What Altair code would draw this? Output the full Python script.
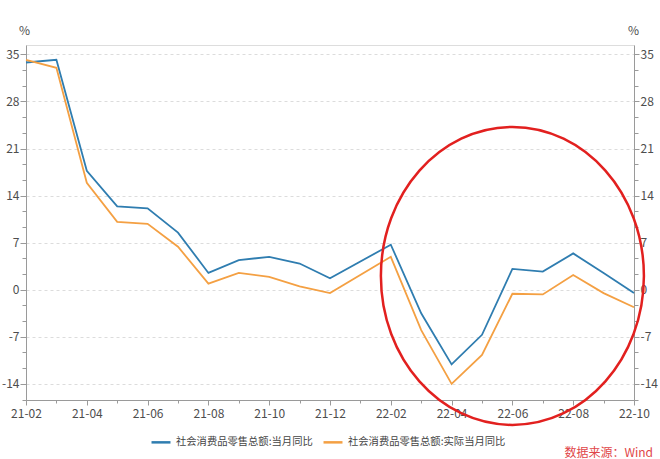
import altair as alt
import pandas as pd

# Month axis (Jan figures are merged into Feb in the source statistics)
months_axis = [
    "21-02", "21-03", "21-04", "21-05", "21-06", "21-07", "21-08", "21-09",
    "21-10", "21-11", "21-12", "22-01", "22-02", "22-03", "22-04", "22-05",
    "22-06", "22-07", "22-08", "22-09", "22-10",
]
label_months = months_axis[::2]

# Observed months and year-on-year growth (%)
months = [
    "21-02", "21-03", "21-04", "21-05", "21-06", "21-07", "21-08", "21-09",
    "21-10", "21-11", "21-12", "22-02", "22-03", "22-04", "22-05", "22-06",
    "22-07", "22-08", "22-09", "22-10",
]
nominal_yoy = [33.8, 34.2, 17.7, 12.4, 12.1, 8.5, 2.5, 4.4, 4.9, 3.9, 1.7,
               6.7, -3.5, -11.1, -6.7, 3.1, 2.7, 5.4, 2.5, -0.5]
real_yoy = [34.2, 33.0, 15.9, 10.1, 9.8, 6.4, 0.9, 2.5, 1.9, 0.5, -0.5,
            4.9, -6.0, -14.0, -9.7, -0.6, -0.7, 2.2, -0.5, -2.6]

series_names = ["社会消费品零售总额:当月同比", "社会消费品零售总额:实际当月同比"]
series_colors = ["#2f7db0", "#f4a043"]

major_ticks = [-14, -7, 0, 7, 14, 21, 28, 35]
minor_ticks = [round(k * 7 / 3, 2) for k in range(-7, 16) if k % 3]
y_domain = [-16.4, 36.4]

# Highlighted recent period (centre of the ring)
highlight_month = ["22-06"]
highlight_value = [2.05]

df = pd.concat([
    pd.DataFrame({"month": months, "value": nominal_yoy, "series": series_names[0]}),
    pd.DataFrame({"month": months, "value": real_yoy, "series": series_names[1]}),
], ignore_index=True)
hl = pd.DataFrame({"month": highlight_month, "value": highlight_value})

FONT = "Noto Sans CJK SC"
AXIS_GREY = "#9a9a9a"
LABEL_GREY = "#4d4d4d"
PLAIN_NUMBER = "'' + datum.value"

x_scale = alt.Scale(type="point", domain=months_axis, padding=0)
y_scale = alt.Scale(domain=y_domain, nice=False, zero=False)


def x_enc(axis):
    return alt.X("month:O", scale=x_scale, axis=axis, title=None)


def y_enc(axis):
    return alt.Y("value:Q", scale=y_scale, axis=axis, title=None)


x_major = alt.Axis(
    orient="bottom", values=label_months, labelAngle=0, tickSize=5,
    domainColor=AXIS_GREY, tickColor=AXIS_GREY, labelColor=LABEL_GREY,
    labelFont=FONT, labelFontSize=12, labelPadding=3, grid=False,
)
x_minor = alt.Axis(
    orient="bottom", values=months_axis, labels=False, tickSize=3,
    domain=False, tickColor=AXIS_GREY, grid=False,
)
y_left = alt.Axis(
    orient="left", values=major_ticks, tickSize=6, labelPadding=1,
    labelExpr=PLAIN_NUMBER,
    domainColor=AXIS_GREY, tickColor=AXIS_GREY, labelColor=LABEL_GREY,
    labelFont=FONT, labelFontSize=12, grid=True, gridDash=[3, 3],
    gridColor="#dcdcdc", title="%", titleAngle=0, titleX=-2, titleY=-15,
    titleAlign="center", titleBaseline="middle", titleFont=FONT,
    titleFontSize=12, titleFontWeight="normal", titleColor=LABEL_GREY,
)
y_right = alt.Axis(
    orient="right", values=major_ticks, tickSize=5, labelPadding=1,
    labelExpr=PLAIN_NUMBER,
    domainColor=AXIS_GREY, tickColor=AXIS_GREY, labelColor=LABEL_GREY,
    labelFont=FONT, labelFontSize=12, grid=False,
    title="%", titleAngle=0, titleX=-1, titleY=-15, titleAlign="center",
    titleBaseline="middle", titleFont=FONT, titleFontSize=12,
    titleFontWeight="normal", titleColor=LABEL_GREY,
)
y_left_minor = alt.Axis(orient="left", values=minor_ticks, labels=False,
                        tickSize=4, domain=False, tickColor=AXIS_GREY, grid=False)
y_right_minor = alt.Axis(orient="right", values=minor_ticks, labels=False,
                         tickSize=4, domain=False, tickColor=AXIS_GREY, grid=False)

lines = alt.Chart(df).mark_line(strokeWidth=1.8).encode(
    x=x_enc(x_major),
    y=y_enc(y_left),
    color=alt.Color(
        "series:N",
        scale=alt.Scale(domain=series_names, range=series_colors),
        legend=alt.Legend(
            title=None, orient="none", legendX=124, legendY=386,
            direction="horizontal", symbolType="stroke", symbolStrokeWidth=2.5,
            symbolSize=360, labelFont=FONT, labelFontSize=10.3,
            labelColor="#444444", columnPadding=5, labelOffset=4,
            labelLimit=400,
        ),
    ),
    order=alt.Order("month:O"),
)

# Ellipse outline drawn as a custom symbol path
ring_path = "M -0.8826 0 A 0.8826 1 0 1 0 0.8826 0 A 0.8826 1 0 1 0 -0.8826 0 Z"
ring = alt.Chart(hl).mark_point(
    shape=ring_path, size=88804, filled=False, stroke="#e2201f",
    strokeWidth=2.5, opacity=1,
).encode(x=x_enc(x_minor), y=y_enc(y_right))

ghost_left = alt.Chart(df).mark_point(opacity=0).encode(
    x=x_enc(None), y=y_enc(y_left_minor))
ghost_right = alt.Chart(df).mark_point(opacity=0).encode(
    x=x_enc(None), y=y_enc(y_right_minor))

chart = alt.layer(lines, ghost_left, ghost_right, ring).resolve_axis(
    x="independent", y="independent"
).properties(
    width=608,
    height=355,
    padding={"left": 26, "top": 45, "right": 26, "bottom": 59},
    autosize=alt.AutoSizeParams(type="none"),
    title=alt.TitleParams(
        "数据来源：Wind", orient="bottom", anchor="end", frame="group",
        font=FONT, fontSize=12, fontWeight="normal", color="#df4548",
        offset=0, dx=19, limit=300,
    ),
).configure_view(stroke=None).configure(background="white")

chart.save("out.html", embed_options={"renderer": "svg", "actions": False})
